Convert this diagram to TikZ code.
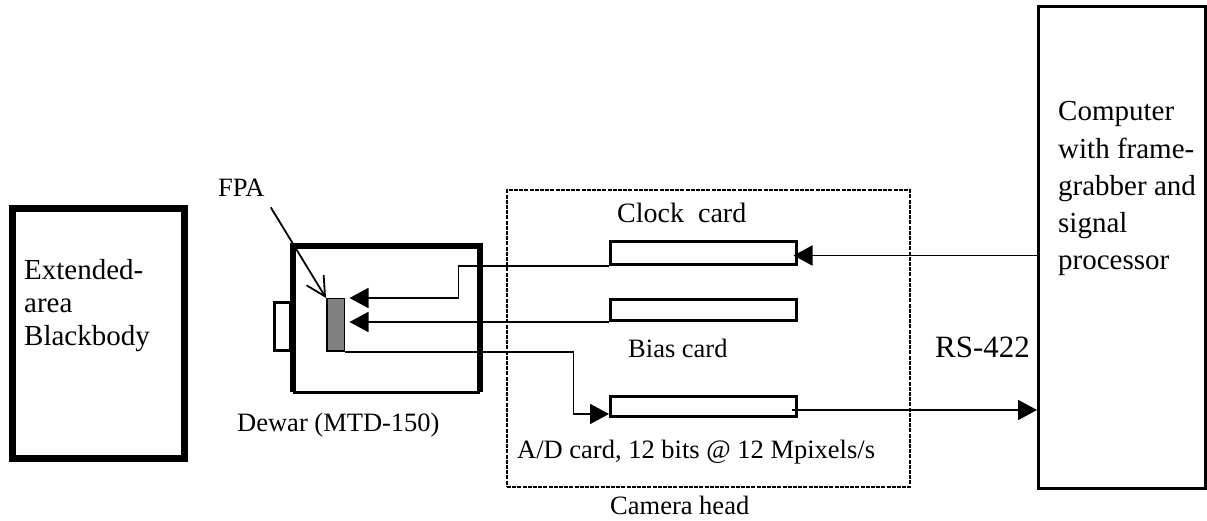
\documentclass[tikz,border=0pt]{standalone}
\usepackage{fontspec}
\setmainfont{Liberation Serif}
\usetikzlibrary{arrows.meta,calc,positioning}
\newcommand{\lblsize}{\fontsize{26.5}{30}\selectfont}
\newcommand{\bigsize}{\fontsize{29}{33}\selectfont}

\begin{document}
\begin{tikzpicture}[x=1pt,y=1pt,
  card/.style={draw,line width=3pt,minimum width=186pt,inner sep=0pt},
  lbl/.style={font=\lblsize,inner sep=0pt,anchor=base west},
  sig/.style={line width=1.8pt,-{Triangle[length=19pt,width=20pt]}},
  wire/.style={line width=1.8pt}]
  \useasboundingbox (0,0) rectangle (1207,521);

  % --- Left: blackbody source ---
  \node[draw,line width=6.5pt,minimum width=172pt,minimum height=250pt,inner sep=0pt]
    (bb) at (98.5,187.5) {};
  \node[font=\bigsize,align=left,anchor=north west,inner sep=0pt]
    (bbtext) at (24,261.8) {Extended-\\area\\Blackbody};

  % --- Dewar with window and FPA ---
  \node[minimum width=186.5pt,minimum height=146pt,inner sep=0pt] (dewar) at (386.5,201.75) {};
  \draw[line width=6.5pt] (dewar.south west) -- (dewar.north west)
                          -- (dewar.north east) -- (dewar.south east);
  \draw[line width=3.5pt] (dewar.south west) -- (dewar.south east);
  \node[draw,line width=3pt,minimum width=16pt,minimum height=48pt,inner sep=0pt]
    (window) at (282.5,194.5) {};
  \node[draw,line width=1.5pt,fill=gray,minimum width=17.5pt,minimum height=52.5pt,inner sep=0pt]
    (fpa) at (335.5,196) {};
  \coordinate (fpaR) at (349.5,196);
  \node[lbl] (fpalbl) at (218,324) {FPA};
  \draw[wire,shorten <=12pt,-{Straight Barb[length=19pt,width=20pt]}] (fpalbl.south east) -- (fpa.north west);
  \node[lbl] (dewarlbl) at (237,89) {Dewar (MTD-150)};

  % --- Middle: camera head ---
  \node[draw,line width=2.5pt,dash pattern=on 4pt off 1.2pt,minimum width=403pt,minimum height=297pt,inner sep=0pt]
    (head) at (708.5,182.5) {};
  \node[lbl] (headlbl) at (610,6) {Camera head};
  \node[card,minimum height=23pt] (clock) at (703.5,268) {};
  \node[card,minimum height=21pt] (bias) at (703.5,211) {};
  \node[card,minimum height=20pt] (adc) at (703.5,114.5) {};
  \node[lbl,font=\fontsize{28}{32}\selectfont] (clocklbl) at (617,298) {Clock\ \ card};
  \node[lbl] (biaslbl) at (628,163) {Bias card};
  \node[lbl] (adclbl) at (517,62) {A/D card, 12 bits @ 12 Mpixels/s};

  % --- Right: computer ---
  \node[draw,line width=3pt,minimum width=167pt,minimum height=482pt,inner sep=0pt]
    (pc) at (1122,273.5) {};
  \node[font=\fontsize{29}{37.3}\selectfont,align=left,anchor=north west,inner sep=0pt]
    (pctext) at (1058,419.6) {Computer\\with frame-\\grabber and\\signal\\processor};
  \node[lbl,font=\fontsize{31}{36}\selectfont] (rslbl) at (935,163) {RS-422};

  % signal paths
  \draw[sig] (clock.south west) -- ++(-150.5,0) |- (fpa.north east -| fpaR);
  \draw[sig] (bias.south west) -- (bias.south west -| fpaR);
  \draw[sig] (fpa.south east) -- ++(228.5,0) |- ($(adc.west)+(0,-7.5)$);
  \coordinate (clockin) at ($(clock.east)+(-4.5,-2.5)$);
  \draw[sig] (clockin -| pc.west) -- (clockin);
  \coordinate (adcout) at ($(adc.east)+(-6.5,-3.5)$);
  \draw[sig] (adcout) -- (adcout -| pc.west);
\end{tikzpicture}
\end{document}
